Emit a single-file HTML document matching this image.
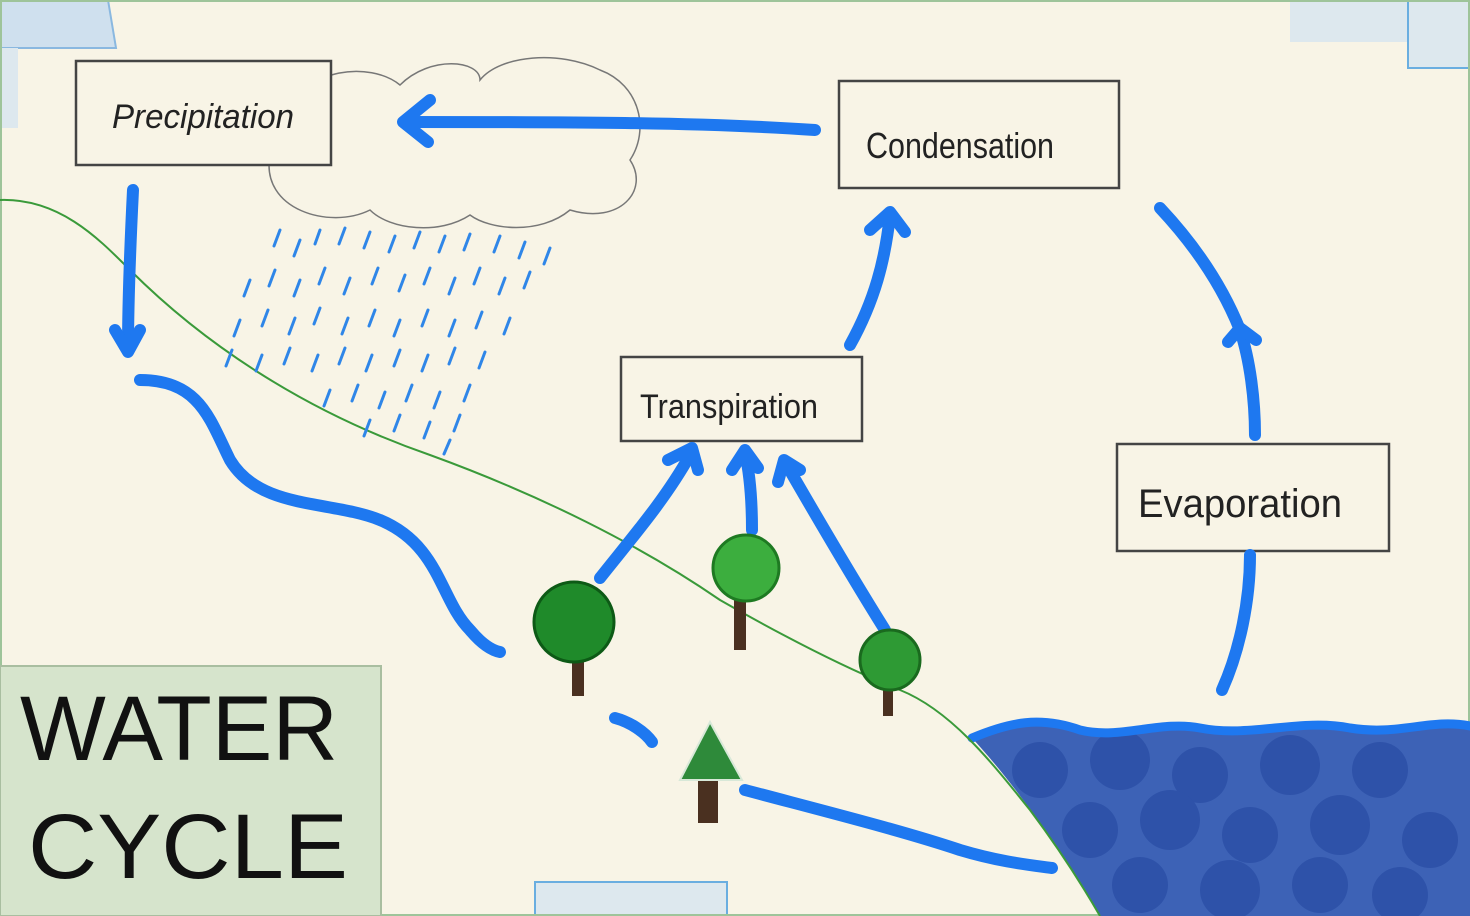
<!DOCTYPE html>
<html><head><meta charset="utf-8"><style>
html,body{margin:0;padding:0;background:#f8f4e6;}
svg{display:block;}
.hw{font-family:"Liberation Sans",sans-serif;fill:#222;}
</style></head><body>
<svg width="1470" height="916" viewBox="0 0 1470 916" xmlns="http://www.w3.org/2000/svg">
<rect x="0" y="0" width="1470" height="916" fill="#f8f4e6"/>
<polygon points="0,0 108,0 116,48 0,48" fill="#cfe0ee" stroke="#8ab8e0" stroke-width="2"/>
<rect x="0" y="48" width="18" height="80" fill="#dde8ee"/>
<rect x="1290" y="0" width="180" height="42" fill="#dde8ee"/>
<rect x="1408" y="0" width="62" height="68" fill="#dde8ee" stroke="#6aaee0" stroke-width="2"/>
<rect x="535" y="882" width="192" height="40" fill="#dde8ee" stroke="#6aaee0" stroke-width="2"/>
<rect x="1415" y="815" width="60" height="110" fill="none" stroke="#6aaee0" stroke-width="2"/>
<rect x="1" y="1" width="1468" height="914" fill="none" stroke="#9ec49a" stroke-width="2"/>

<path d="M972,738 C1010,722 1040,716 1080,730 C1120,740 1160,720 1200,728 C1250,738 1300,718 1350,728 C1400,736 1430,718 1470,726 L1470,916 L1100,916 C1060,850 1020,790 972,738 Z" fill="#3d62b6"/>
<g fill="#2b4fa6" opacity="0.8">
<circle cx="1040" cy="770" r="28"/><circle cx="1120" cy="760" r="30"/><circle cx="1200" cy="775" r="28"/><circle cx="1290" cy="765" r="30"/><circle cx="1380" cy="770" r="28"/>
<circle cx="1090" cy="830" r="28"/><circle cx="1170" cy="820" r="30"/><circle cx="1250" cy="835" r="28"/><circle cx="1340" cy="825" r="30"/><circle cx="1430" cy="840" r="28"/>
<circle cx="1140" cy="885" r="28"/><circle cx="1230" cy="890" r="30"/><circle cx="1320" cy="885" r="28"/><circle cx="1400" cy="895" r="28"/>
</g>
<path d="M972,738 C1010,722 1040,716 1080,730 C1120,740 1160,720 1200,728 C1250,738 1300,718 1350,728 C1400,736 1430,718 1470,726" fill="none" stroke="#1e78f0" stroke-width="9" stroke-linecap="round"/>

<path d="M0,200 C60,198 100,240 130,270 C200,340 300,410 430,455 C540,495 640,545 720,600 C790,640 850,670 900,690 C950,710 990,760 1030,810 C1060,850 1085,890 1100,916" fill="none" stroke="#3a9a3a" stroke-width="2"/>

<path d="M270,155 C240,140 260,100 300,110 C300,70 370,60 400,85 C430,55 480,60 480,80 C500,55 560,50 600,70 C640,85 650,130 630,160 C650,190 620,225 570,210 C540,235 490,230 470,215 C440,235 390,230 370,210 C330,230 260,210 270,155 Z" fill="none" stroke="#777" stroke-width="1.5"/>

<g stroke="#2f86e8" stroke-width="3" stroke-linecap="round">
<path d="M280,230 l-6,16 M300,240 l-6,16 M320,230 l-5,14 M345,228 l-6,16 M370,232 l-6,16 M395,236 l-6,16 M420,232 l-6,16 M445,236 l-6,16 M470,234 l-6,16 M500,236 l-6,16 M525,242 l-6,16 M550,248 l-6,16"/>
<path d="M250,280 l-6,16 M275,270 l-6,16 M300,280 l-6,16 M325,268 l-6,16 M350,278 l-6,16 M378,268 l-6,16 M405,275 l-6,16 M430,268 l-6,16 M455,278 l-6,16 M480,268 l-6,16 M505,278 l-6,16 M530,272 l-6,16"/>
<path d="M240,320 l-6,16 M268,310 l-6,16 M295,318 l-6,16 M320,308 l-6,16 M348,318 l-6,16 M375,310 l-6,16 M400,320 l-6,16 M428,310 l-6,16 M455,320 l-6,16 M482,312 l-6,16 M510,318 l-6,16"/>
<path d="M232,350 l-6,16 M262,355 l-6,16 M290,348 l-6,16 M318,355 l-6,16 M345,348 l-6,16 M372,355 l-6,16 M400,350 l-6,16 M428,355 l-6,16 M455,348 l-6,16 M485,352 l-6,16"/>
<path d="M330,390 l-6,16 M358,385 l-6,16 M385,392 l-6,16 M412,385 l-6,16 M440,392 l-6,16 M470,385 l-6,16"/>
<path d="M370,420 l-6,16 M400,415 l-6,16 M430,422 l-6,16 M460,415 l-6,16 M450,440 l-6,14"/>
</g>

<g fill="#f8f4e6" stroke="#444" stroke-width="2.5">
<rect x="76" y="61" width="255" height="104"/>
<rect x="839" y="81" width="280" height="107"/>
<rect x="621" y="357" width="241" height="84"/>
<rect x="1117" y="444" width="272" height="107"/>
</g>
<text class="hw" x="112" y="128" font-size="34" font-style="italic" textLength="182" lengthAdjust="spacingAndGlyphs">Precipitation</text>
<text class="hw" x="866" y="158" font-size="36" textLength="188" lengthAdjust="spacingAndGlyphs">Condensation</text>
<text class="hw" x="640" y="418" font-size="34" textLength="178" lengthAdjust="spacingAndGlyphs">Transpiration</text>
<text class="hw" x="1138" y="517" font-size="40" textLength="204" lengthAdjust="spacingAndGlyphs">Evaporation</text>

<rect x="0" y="666" width="381" height="250" fill="#d6e4cc" stroke="#a9bea0" stroke-width="2"/>
<text x="20" y="760" font-family="Liberation Sans,sans-serif" font-size="92" fill="#111" textLength="318" lengthAdjust="spacingAndGlyphs">WATER</text>
<text x="28" y="878" font-family="Liberation Sans,sans-serif" font-size="92" fill="#111" textLength="320" lengthAdjust="spacingAndGlyphs">CYCLE</text>

<g fill="none" stroke="#1e78f0" stroke-width="12" stroke-linecap="round" stroke-linejoin="round">
<path d="M815,130 C700,122 560,122 405,122"/><path d="M430,100 L403,122 L428,142"/>
<path d="M133,190 C130,250 128,300 128,350"/><path d="M115,330 L128,352 L140,330"/>
<path d="M140,380 C200,380 210,420 230,460 C260,510 330,500 380,520 C440,545 440,600 470,630 C480,642 490,650 500,652"/>
<path d="M615,718 C630,722 645,732 652,742"/>
<path d="M745,790 C820,810 900,830 960,850 C1000,862 1030,865 1052,868"/>
<path d="M850,345 C875,300 885,260 890,215"/><path d="M870,230 L890,212 L905,232"/>
<path d="M600,578 C630,540 665,500 690,455"/><path d="M668,460 L692,448 L698,470"/>
<path d="M752,530 C752,500 750,475 745,452"/><path d="M732,470 L745,450 L758,468"/>
<path d="M885,630 C860,590 830,540 785,462"/><path d="M778,482 L784,460 L800,470"/>
<path d="M1222,690 C1240,650 1250,600 1250,555"/>
<path d="M1255,435 C1255,400 1250,360 1240,330 C1220,280 1190,240 1160,208"/><path d="M1228,342 L1240,328 L1256,340"/>
</g>

<g>
<rect x="572" y="640" width="12" height="56" fill="#4a3020"/>
<circle cx="574" cy="622" r="40" fill="#1f8a2a" stroke="#0d5a16" stroke-width="3"/>
<rect x="734" y="590" width="12" height="60" fill="#4a3020"/>
<circle cx="746" cy="568" r="33" fill="#3cae3e" stroke="#1e7a22" stroke-width="3"/>
<rect x="883" y="670" width="10" height="46" fill="#4a3020"/>
<circle cx="890" cy="660" r="30" fill="#2e9a34" stroke="#1a6a1e" stroke-width="3"/>
<rect x="698" y="765" width="20" height="58" fill="#4a3020"/>
<polygon points="710,722 680,780 742,780" fill="#2e8a3a" stroke="#d8e8d8" stroke-width="2"/>
</g>
</svg>
</body></html>
